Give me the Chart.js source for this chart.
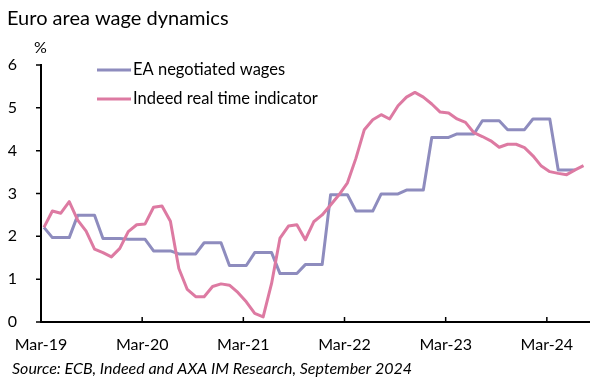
<!DOCTYPE html>
<html>
<head>
<meta charset="utf-8">
<script src="https://cdn.jsdelivr.net/npm/chart.js@4/dist/chart.umd.min.js"></script>
<style>
  html, body { margin: 0; padding: 0; background: #fff; }
  #wrap { width: 614px; height: 379px; position: relative; }
</style>
</head>
<body>
<div id="wrap"><canvas id="wageChart" width="614" height="379"></canvas></div>
<script>
const tickLabels = ['Mar-19', 'Mar-20', 'Mar-21', 'Mar-22', 'Mar-23', 'Mar-24'];
const seriesNames = ['EA negotiated wages', 'Indeed real time indicator'];

// monthly, Mar-19 onwards (quarterly figure repeated for each month)
const negotiatedWages = [
  2.21,
  1.97, 1.97, 1.97,
  2.49, 2.49, 2.49,
  1.95, 1.95, 1.95,
  1.93, 1.93, 1.93,
  1.66, 1.66, 1.66,
  1.59, 1.59, 1.59,
  1.85, 1.85, 1.85,
  1.32, 1.32, 1.32,
  1.62, 1.62, 1.62,
  1.13, 1.13, 1.13,
  1.34, 1.34, 1.34,
  2.97, 2.97, 2.97,
  2.59, 2.59, 2.59,
  2.99, 2.99, 2.99,
  3.08, 3.08, 3.08,
  4.31, 4.31, 4.31,
  4.39, 4.39, 4.39,
  4.70, 4.70, 4.70,
  4.49, 4.49, 4.49,
  4.74, 4.74, 4.74,
  3.55, 3.55, 3.55
];

const indeedIndicator = [
  2.21, 2.59, 2.54, 2.81, 2.38, 2.12, 1.70, 1.62, 1.52, 1.72,
  2.11, 2.27, 2.29, 2.68, 2.71, 2.35, 1.25, 0.76, 0.59, 0.59,
  0.83, 0.89, 0.86, 0.69, 0.47, 0.20, 0.12, 0.90, 1.96, 2.24,
  2.27, 1.92, 2.34, 2.50, 2.73, 2.97, 3.25, 3.82, 4.49, 4.72,
  4.84, 4.74, 5.05, 5.25, 5.36, 5.25, 5.09, 4.90, 4.88, 4.74,
  4.66, 4.42, 4.33, 4.23, 4.08, 4.15, 4.15, 4.07, 3.88, 3.64,
  3.51, 3.47, 3.44, 3.55, 3.65
];

const purple = 'rgb(142, 140, 190)';
const pink = 'rgb(221, 122, 162)';
const FONT = 'Lato, "Open Sans", sans-serif';

// points sit a little after the month tick, like the source
const toPoints = arr => arr.map((v, i) => ({ x: i + 0.35, y: v }));

const decor = {
  id: 'decor',
  afterDraw(chart) {
    const { ctx, chartArea, scales } = chart;
    ctx.save();

    // tick marks: y outside, x inside
    ctx.strokeStyle = '#000';
    ctx.lineWidth = 1.5;
    ctx.beginPath();
    for (let v = 0; v <= 6; v++) {
      const y = scales.y.getPixelForValue(v);
      ctx.moveTo(chartArea.left - 5, y);
      ctx.lineTo(chartArea.left, y);
    }
    tickLabels.forEach((_, i) => {
      const x = scales.x.getPixelForValue(i * 12);
      ctx.moveTo(x, chartArea.bottom);
      ctx.lineTo(x, chartArea.bottom - 5);
    });
    ctx.stroke();

    // title, unit, source
    ctx.fillStyle = '#000';
    ctx.textBaseline = 'middle';
    ctx.textAlign = 'left';
    ctx.font = '20px ' + FONT;
    ctx.fillText('Euro area wage dynamics', 7, 19);
    ctx.font = '16px ' + FONT;
    ctx.fillText('%', 34, 48);
    ctx.font = 'italic 16px ' + FONT;
    ctx.fillText('Source: ECB, Indeed and AXA IM Research, September 2024', 12, 369);

    // legend inside the plot
    const rows = [
      { label: seriesNames[0], color: purple, y: 70 },
      { label: seriesNames[1], color: pink, y: 99 }
    ];
    ctx.font = '16.5px ' + FONT;
    rows.forEach(r => {
      ctx.strokeStyle = r.color;
      ctx.lineWidth = 3;
      ctx.beginPath();
      ctx.moveTo(97, r.y);
      ctx.lineTo(131, r.y);
      ctx.stroke();
      ctx.fillText(r.label, 133, r.y);
    });
    ctx.restore();
  }
};

new Chart(document.getElementById('wageChart'), {
  type: 'line',
  data: {
    datasets: [
      {
        label: seriesNames[0],
        data: toPoints(negotiatedWages),
        borderColor: purple,
        borderWidth: 3,
        pointRadius: 0,
        tension: 0,
        order: 1
      },
      {
        label: seriesNames[1],
        data: toPoints(indeedIndicator),
        borderColor: pink,
        borderWidth: 3,
        pointRadius: 0,
        tension: 0,
        order: 0
      }
    ]
  },
  options: {
    responsive: false,
    animation: false,
    devicePixelRatio: 1,
    layout: { padding: { left: 0, right: 25, top: 65, bottom: 22 } },
    plugins: {
      legend: { display: false },
      tooltip: { enabled: false }
    },
    elements: { line: { borderJoinStyle: 'round' } },
    scales: {
      x: {
        type: 'linear',
        min: 0,
        max: 65,
        afterBuildTicks: scale => {
          scale.ticks = tickLabels.map((_, i) => ({ value: i * 12 }));
        },
        afterFit: scale => { scale.height = 35; },
        grid: { display: false },
        border: { display: true, color: '#000', width: 2 },
        ticks: {
          autoSkip: false,
          maxRotation: 0,
          padding: 5,
          color: '#000',
          font: { family: FONT, size: 16 },
          callback: v => tickLabels[v / 12]
        }
      },
      y: {
        min: 0,
        max: 6,
        afterFit: scale => { scale.width = 41; },
        grid: { display: false },
        border: { display: true, color: '#000', width: 2 },
        ticks: {
          stepSize: 1,
          padding: 16,
          color: '#000',
          font: { family: FONT, size: 16 }
        }
      }
    }
  },
  plugins: [decor]
});
</script>
</body>
</html>
